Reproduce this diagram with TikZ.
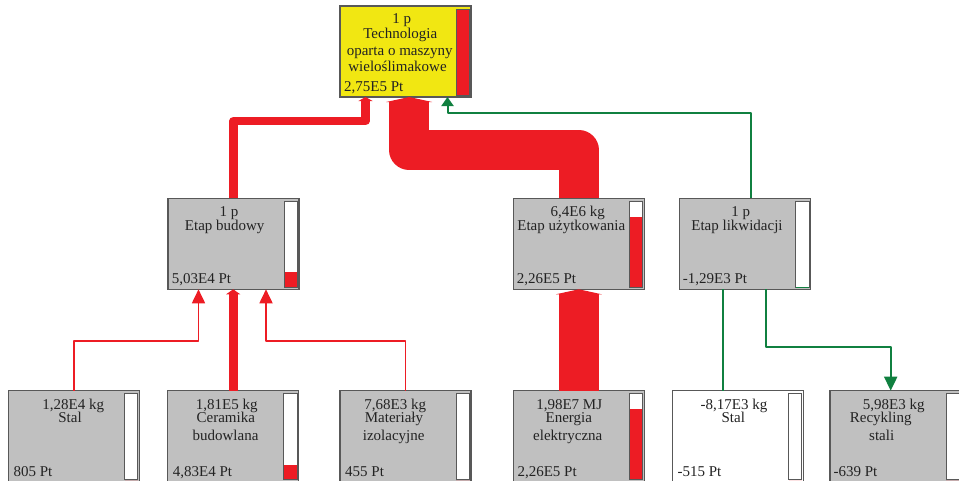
\documentclass[tikz,border=0pt]{standalone}
\usepackage{fontspec}
\setmainfont{Liberation Serif}
\usetikzlibrary{arrows.meta,calc}

\definecolor{lcared}{RGB}{237,28,36}
\definecolor{lcagrey}{RGB}{192,192,192}
\definecolor{lcayellow}{RGB}{241,231,18}
\definecolor{lcagreen}{RGB}{16,128,64}
\definecolor{lcaedge}{RGB}{88,88,88}
\definecolor{lcatext}{RGB}{35,35,35}

\tikzset{
  procbox/.style={rectangle, draw=lcaedge, line width=1.4pt, minimum width=131pt,
    minimum height=91pt, inner sep=0pt, outer sep=0pt},
  barline/.style={draw=lcaedge, line width=0.9pt},
  lbl/.style={font=\fontsize{15}{17}\selectfont, text=lcatext, inner sep=0pt, anchor=base},
  val/.style={lbl, anchor=base west},
  redflow/.style={draw=lcared, line join=round},
  greenflow/.style={draw=lcagreen, line width=2pt, line join=round},
}

% process box with its score bar: name, left, top, fill, red share of the bar
\newcommand\lcabox[5]{%
  \node[procbox, fill=#4, anchor=north west] (#1) at (#2,#3) {};
  \coordinate (#1bnw) at ($(#1.north east)+(-14.8,3.2)$);
  \coordinate (#1bse) at ($(#1.north east)+(-1.5,89)$);
  \fill[white] (#1bnw) rectangle (#1bse);
  \fill[lcared] (#1bse) rectangle ($(#1bnw |- #1bse)+(0,-#5*85.8)$);
  \draw[barline] (#1bnw) rectangle (#1bse);
}

\begin{document}
\begin{tikzpicture}[x=1pt,y=-1pt]
\useasboundingbox (0,0) rectangle (959,480);
\clip (0,0) rectangle (959,480);

% boxes
\lcabox{top}{340}{6}{lcayellow}{1}
\lcabox{bud}{168}{198.3}{lcagrey}{0.183}
\lcabox{use}{513.3}{198.3}{lcagrey}{0.82}
\lcabox{likw}{679.5}{198.3}{lcagrey}{0}
\lcabox{stal}{8.3}{390.7}{lcagrey}{0}
\lcabox{ceram}{167.7}{390.7}{lcagrey}{0.176}
\lcabox{mater}{340}{390.7}{lcagrey}{0}
\lcabox{ener}{513.3}{390.7}{lcagrey}{0.822}
\lcabox{stalw}{672.3}{390.7}{white}{0}
\lcabox{recyk}{830}{390.7}{lcagrey}{0}
\draw[lcagreen, line width=1.2pt] (likwbnw |- likwbse) -- (likwbse);

% attachment points of the thin connectors
\coordinate (lkout) at ($(likw.south)+(-22.3,0)$);
\coordinate (lkrec) at ($(likw.south)+(20.7,0)$);
\coordinate (lkin) at ($(likw.north)+(5.5,0)$);

% flows into the product
\draw[redflow, line width=8.5pt, -{Triangle[width=14pt,length=4pt]}]
  (bud.north) |- ($(top.south)+(-40,24)$) -- ($(top.south)+(-40,0)$);
\draw[redflow, line width=40pt, -{Triangle[width=46pt,length=5pt]}]
  (use.north) |- ($(top.south)+(3.7,53)$) -- ($(top.south)+(3.7,0)$);
\draw[greenflow, -{Triangle[width=12pt,length=9pt]}]
  (lkin) |- ($(top.south)+(42,16)$) -- ($(top.south)+(42,0)$);

% flows into the life-cycle stages
\draw[redflow, line width=1.8pt, -{Triangle[width=13pt,length=14pt]}]
  (stal.north) |- ($(bud.south)+(-35,52)$) -- ($(bud.south)+(-35,0)$);
\draw[redflow, line width=9pt, -{Triangle[width=14pt,length=5pt]}]
  (ceram.north) -- (ceram.north |- bud.south);
\draw[redflow, line width=1.8pt, -{Triangle[width=13pt,length=14pt]}]
  (mater.north) |- ($(bud.south)+(32.5,52)$) -- ($(bud.south)+(32.5,0)$);
\draw[redflow, line width=40pt, -{Triangle[width=46pt,length=5pt]}]
  (ener.north) -- (ener.north |- use.south);
\draw[greenflow] (lkout) -- (lkout |- stalw.north);
\draw[greenflow, -{Triangle[width=13pt,length=14pt]}]
  (lkrec) |- ($(recyk.north)+(-4.8,-44)$) -- ($(recyk.north)+(-4.8,0)$);

% labels: product
\node[lbl] (topq) at (401.7,23.5) {1 p};
\node[lbl] (topn1) at (400.3,38.5) {Technologia};
\node[lbl] (topn2) at (399.7,55) {oparta o maszyny};
\node[lbl] (topn3) at (397.5,71) {wieloślimakowe};
\node[val] (topv) at (344,91.5) {2,75E5 Pt};

% labels: stages
\node[lbl] (budq) at (229,216.5) {1 p};
\node[lbl] (budn) at (224.7,230) {Etap budowy};
\node[val] (budv) at (171.7,283.5) {5,03E4 Pt};
\node[lbl] (useq) at (577.7,216.5) {6,4E6 kg};
\node[lbl] (usen) at (571.3,230) {Etap użytkowania};
\node[val] (usev) at (516.7,283.5) {2,26E5 Pt};
\node[lbl] (likwq) at (740.8,216.5) {1 p};
\node[lbl] (likwn) at (737,230) {Etap likwidacji};
\node[val] (likwv) at (682.7,283.5) {-1,29E3 Pt};

% labels: inputs and outputs
\node[lbl] (stalq) at (73.3,409.3) {1,28E4 kg};
\node[lbl] (staln) at (70,422.5) {Stal};
\node[val] (stalv) at (13.3,476) {805 Pt};
\node[lbl] (ceramq) at (226.7,409.3) {1,81E5 kg};
\node[lbl] (ceramn1) at (225.8,422.5) {Ceramika};
\node[lbl] (ceramn2) at (225.5,440) {budowlana};
\node[val] (ceramv) at (172.7,476) {4,83E4 Pt};
\node[lbl] (materq) at (395.2,409.3) {7,68E3 kg};
\node[lbl] (matern1) at (394,422.5) {Materiały};
\node[lbl] (matern2) at (393.7,440) {izolacyjne};
\node[val] (materv) at (345,476) {455 Pt};
\node[lbl] (enerq) at (569.2,409.3) {1,98E7 MJ};
\node[lbl] (enern1) at (568.8,422.5) {Energia};
\node[lbl] (enern2) at (567.8,440) {elektryczna};
\node[val] (enerv) at (517.3,476) {2,26E5 Pt};
\node[lbl] (stalwq) at (734,409.3) {-8,17E3 kg};
\node[lbl] (stalwn) at (733.3,422.5) {Stal};
\node[val] (stalwv) at (677.3,476) {-515 Pt};
\node[lbl] (recykq) at (893.8,409.3) {5,98E3 kg};
\node[lbl] (recykn1) at (880.7,422.5) {Recykling};
\node[lbl] (recykn2) at (881.7,440) {stali};
\node[val] (recykv) at (833.3,476) {-639 Pt};
\end{tikzpicture}
\end{document}
